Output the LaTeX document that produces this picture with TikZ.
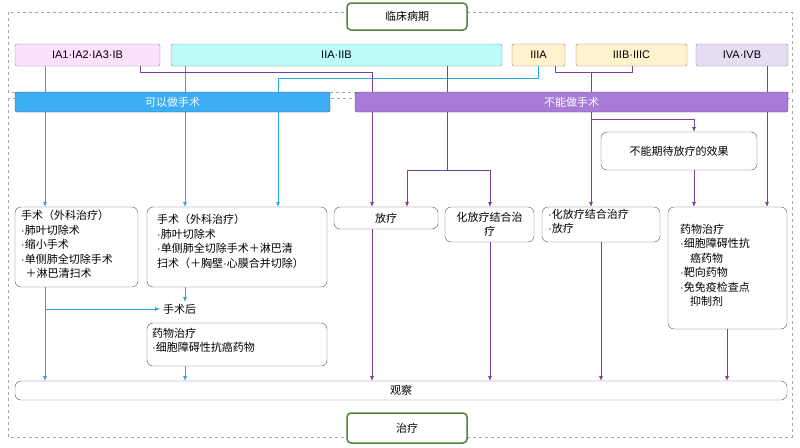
\documentclass[tikz,border=0pt]{standalone}
\usepackage{fontspec}
\setmainfont{Noto Sans CJK SC}
\newfontfamily\lat{Liberation Sans}
\newcommand{\dt}{{\lat ·}}
\usetikzlibrary{arrows.meta}
\definecolor{cy}{HTML}{2AA8D8}
\definecolor{pu}{HTML}{7B3F9E}
\definecolor{bd}{HTML}{44546A}
\definecolor{cpink}{HTML}{FCE0FC}
\definecolor{ccyan}{HTML}{BDFBFB}
\definecolor{cyel}{HTML}{FFF2CC}
\definecolor{clav}{HTML}{E6DDF3}
\definecolor{cblue}{HTML}{3DAEF5}
\definecolor{cpur}{HTML}{A97BD6}
\definecolor{cgrn}{HTML}{548235}
\tikzset{
 every node/.style={font=\fontsize{11}{14.5}\selectfont},
 stage/.style={draw=bd!70,rounded corners=2pt,inner sep=0},
 band/.style={draw=bd,rounded corners=2pt,inner sep=0},
 tbox/.style={draw=bd,rounded corners=6pt,inner sep=0},
 cl/.style={draw=cy,line width=0.8pt},
 pl/.style={draw=pu,line width=0.8pt},
 ar/.style={-{Latex[length=5pt,width=4pt]}},
 txt/.style={align=left,anchor=north west,inner sep=0}
}
\begin{document}
\begin{tikzpicture}[x=1pt,y=-1pt]
\useasboundingbox (0,0) rectangle (800,447);
\draw[gray!70,dashed] (8,12) rectangle (792,92);
\draw[gray!70,dashed] (8,98) rectangle (792,437);
% stages
\draw[stage,fill=cpink] (15,44) rectangle (160,66) node[midway,font=\lat\fontsize{11}{13}\selectfont](s1){IA1·IA2·IA3·IB};
\draw[stage,fill=ccyan] (171,44) rectangle (502,66) node[midway,font=\lat\fontsize{11}{13}\selectfont](s2){IIA·IIB};
\draw[stage,fill=cyel] (512,44) rectangle (565,66) node[midway,font=\lat\fontsize{11}{13}\selectfont](s3){IIIA};
\draw[stage,fill=cyel] (576,44) rectangle (687,66) node[midway,font=\lat\fontsize{11}{13}\selectfont](s4){IIIB·IIIC};
\draw[stage,fill=clav] (696,44) rectangle (788,66) node[midway,font=\lat\fontsize{11}{13}\selectfont](s5){IVA·IVB};
% header/footer
\draw[draw=cgrn,line width=1.5pt,fill=white,rounded corners=4pt] (347,3) rectangle (467,30) node[midway](h){临床病期};
\draw[draw=cgrn,line width=1.5pt,fill=white,rounded corners=4pt] (347,413) rectangle (467,443) node[midway](f){治疗};
% boxes
\draw[tbox] (15,207) rectangle (138,287);
\node[txt] (t1) at (21,210) {手术（外科治疗）\\\dt 肺叶切除术\\\dt 缩小手术\\\dt 单侧肺全切除手术\\\hspace{0.4em}＋淋巴清扫术};
\draw[tbox] (147,207) rectangle (327,287);
\node[txt] (t2) at (157,214) {手术（外科治疗）\\\dt 肺叶切除术\\\dt 单侧肺全切除手术＋淋巴清\\扫术（＋胸壁\dt 心膜合并切除）};
\draw[tbox] (334,207) rectangle (438,229) node[midway](r1){放疗};
\draw[tbox] (445,207) rectangle (534,242) node[midway,align=center](r2){化放疗结合治\\疗};
\draw[tbox] (542,207) rectangle (660,242);
\node[txt] (r3) at (548,209) {\dt 化放疗结合治疗\\\dt 放疗};
\draw[tbox] (601,132) rectangle (757,170) node[midway](ne){不能期待放疗的效果};
\draw[tbox] (668,207) rectangle (787,329);
\node[txt] (r4) at (680,224) {药物治疗\\\dt 细胞障碍性抗\\\hspace{0.9em}癌药物\\\dt 靶向药物\\\dt 免免疫检查点\\\hspace{0.9em}抑制剂};
\node[anchor=west,inner sep=0] (post) at (163,309) {手术后};
\draw[tbox] (147,323) rectangle (327,366);
\node[txt] (t3) at (152,328) {药物治疗\\\dt 细胞障碍性抗癌药物};
\draw[tbox] (15,381) rectangle (787,400) node[midway](ob){观察};
% connectors cyan
\draw[cl,ar] (45,66) -- (45,207);
\draw[cl,ar] (185,66) -- (185,207);
\draw[cl,ar] (538,66) -- (538,78) -- (278,78) -- (278,207);
\draw[cl,ar] (45,287) -- (45,381);
\draw[cl,ar] (45,309) -- (160,309);
\draw[cl,ar] (185,287) -- (185,302);
\draw[cl,ar] (185,366) -- (185,381);
% connectors purple
\draw[pl,ar] (140,66) -- (140,72) -- (372,72) -- (372,207);
\draw[pl] (447,66) -- (447,170);
\draw[pl,ar] (447,170) -- (407,170) -- (407,207);
\draw[pl,ar] (447,170) -- (490,170) -- (490,207);
\draw[pl] (555,66) -- (555,72) -- (632,72) -- (632,66);
\draw[pl,ar] (591,72) -- (591,207);
\draw[pl,ar] (591,119) -- (694,119) -- (694,132);
\draw[pl,ar] (694,170) -- (694,207);
\draw[pl,ar] (767,66) -- (767,207);
\draw[pl,ar] (372,229) -- (372,381);
\draw[pl,ar] (490,242) -- (490,381);
\draw[pl,ar] (601,242) -- (601,381);
\draw[pl,ar] (727,329) -- (727,381);
% bands over lines
\draw[band,fill=cblue] (15,92) rectangle (330,112) node[midway,text=white](b1){可以做手术};
\draw[band,fill=cpur] (355,92) rectangle (788,112) node[midway,text=white](b2){不能做手术};
\end{tikzpicture}
\end{document}
